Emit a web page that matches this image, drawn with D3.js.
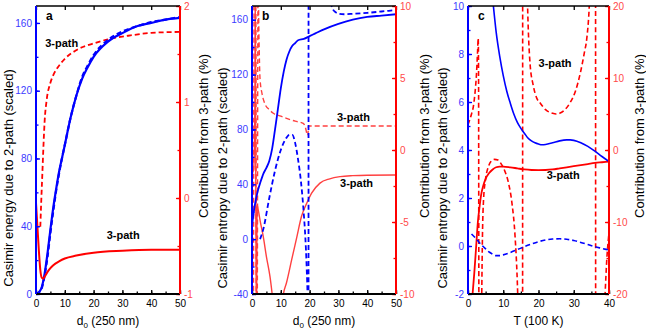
<!DOCTYPE html>
<html>
<head>
<meta charset="utf-8">
<script src="https://cdn.jsdelivr.net/npm/d3@7"></script>
<style>
body { margin: 0; background: #fff; }
text { font-family: "Liberation Sans", Arial, sans-serif; }
</style>
</head>
<body>
<div class="canvas"></div>
<script>
// ---- panel a : energy vs d0 ----
const aBlueSolid = [[0,0],[1,1],[2,4],[3,12],[4,24],[5,38],[6,51],[7,62],[8,72],[9,80],[10,88],[12,104],[14,117],[16,127],[18,134],[20,140],[25,149],[30,154],[35,158],[40,160],[45,162],[50,163]]
const aBlueDash = [[0,0],[1,1],[2,3.5],[3,11],[4,22],[5,36],[6,49],[7,61],[8,71],[9,80],[10,88],[12,104],[14,117],[16,128],[18,135],[20,141],[25,150],[30,155],[35,158],[40,160.5],[45,162],[50,163.5]]
const aRedSolid = [[0,-0.05],[0.5,-0.3],[1,-0.55],[1.5,-0.75],[2,-0.83],[2.5,-0.84],[3,-0.82],[4,-0.77],[5,-0.73],[6,-0.7],[8,-0.66],[10,-0.63],[14,-0.6],[20,-0.57],[30,-0.55],[40,-0.54],[50,-0.54]]
const aRedDash = [[1.5,-0.3],[1.8,-0.05],[2.2,0.25],[2.6,0.55],[3,0.8],[3.7,1.02],[5,1.2],[6,1.28],[7.8,1.37],[10,1.45],[14,1.54],[20,1.61],[26,1.66],[32,1.69],[40,1.72],[50,1.73]]

// ---- panel b : entropy vs d0 ----
const bBlueSolid = [[0,10],[0.5,18],[1,25],[2,35],[3,42],[4,48],[5,52],[6,57],[7,66],[8,80],[9,95],[10,110],[11,122],[12,131],[13,137],[14,141],[15,143],[16,145],[18,146],[20,148],[22,150],[25,153],[30,157],[35,160],[40,162],[45,163],[50,164]]
const bBlueDash = [[2.8,0],[4,8],[6,30],[8,50],[10,65],[12,74],[13,76],[14,76],[15,70],[16,58],[17,42],[18,18],[18.5,2],[19,-22],[19.3,-45],[19.6,-400],[19.65,400],[22,260],[25,200],[27,175],[28,168],[29,165.5],[30,164.5],[32,164],[35,164.3],[40,165],[45,166],[50,167]]
const bRedSolid = [[0.2,-1.6],[0.6,-1.3],[1,3],[1.15,12],[1.45,-12],[1.6,-12],[1.75,-3.8],[2.2,-4.2],[3,-5.1],[3.9,-6],[5,-7.4],[6.25,-8.8],[7,-10],[9,-14],[10.9,-10],[12,-9.2],[13.8,-7.6],[15.5,-6.1],[17.2,-4.6],[19,-3.7],[20.7,-3],[23.6,-2.3],[27,-2],[30.6,-1.85],[35,-1.78],[40,-1.75],[50,-1.74]]
const bRedDash = [[0.5,-12],[0.8,12],[1.3,12],[1.5,-12],[1.8,-12],[2.1,12],[2.4,8],[2.8,4.9],[3.5,3.9],[4.5,3.2],[6,2.8],[7.4,2.55],[10,2.35],[12,2.2],[15,2.0],[17.8,1.85],[18.5,1.6],[19.2,1.04],[19.4,1.0],[19.6,1.67],[22,1.67],[30,1.67],[40,1.67],[50,1.67]]

// ---- panel c : entropy vs T ----
const cBlueSolid = [[7.2,10],[8,8.9],[9,7.9],[10,7.1],[11,6.45],[12,5.95],[13,5.5],[14,5.15],[15,4.9],[16,4.7],[17,4.5],[18,4.38],[19,4.3],[20,4.25],[21,4.22],[22,4.23],[24,4.3],[26,4.38],[28,4.42],[29,4.42],[30,4.4],[32,4.3],[34,4.15],[36,3.95],[38,3.73],[40,3.52]]
const cBlueDash = [[1,0.5],[2,0.35],[3,0.18],[4,0.02],[5,-0.12],[6,-0.25],[7,-0.34],[8,-0.4],[9,-0.4],[10,-0.37],[12,-0.27],[14,-0.15],[16,-0.03],[18,0.08],[20,0.18],[22,0.25],[24,0.29],[26,0.3],[28,0.28],[30,0.23],[32,0.15],[34,0.06],[36,-0.03],[38,-0.1],[40,-0.17]]
const cRedSolid = [[1.3,-20],[1.8,-17],[2.3,-13.5],[2.8,-10],[3.2,-8.2],[3.7,-6.3],[4.3,-5],[5,-4],[6,-3.2],[7,-2.7],[8,-2.4],[9,-2.3],[10,-2.3],[12,-2.4],[14,-2.55],[16,-2.7],[18,-2.78],[20,-2.8],[22,-2.78],[24,-2.7],[26,-2.55],[28,-2.4],[30,-2.25],[32,-2.1],[34,-1.95],[36,-1.8],[38,-1.7],[40,-1.6]]
const cRedDash = [[0,3.5],[0.5,4.2],[1,5],[1.5,6],[2,8],[2.4,10.5],[2.7,13.5],[2.9,15.5],[3,10],[3.1,-25],[3.5,-40],[3.9,-20],[4.1,-12],[4.4,-7],[5,-4],[5.8,-2.3],[6.5,-1.6],[7.5,-1.3],[8.5,-1.4],[9.5,-2],[10.5,-3],[11.5,-4.6],[12.5,-7.5],[13.3,-11.6],[14.1,-20],[14.8,-35],[15.45,-80],[15.55,80],[16.3,35],[16.9,20],[17.6,12],[18.5,9],[19.5,7.2],[20.5,6.5],[22,5.6],[24,5.1],[25,5],[26,5.1],[27.5,5.6],[29,6.6],[30.5,8.2],[32,11],[33,13.5],[33.7,15.5],[34.4,20],[35.3,35],[36.15,80],[36.25,-80],[37.5,-40],[38.9,-20],[39.4,-15],[39.8,-12.5],[40,-11.5]]

// tick values
const aXTicks = [0,10,20,30,40,50], aLeftTicks = [0,40,80,120,160], aRightTicks = [-1,0,1,2]
const bXTicks = [0,10,20,30,40,50], bLeftTicks = [-40,0,40,80,120,160], bRightTicks = [-10,-5,0,5,10]
const cXTicks = [0,10,20,30,40], cLeftTicks = [-2,0,2,4,6,8,10], cRightTicks = [-20,-10,0,10,20]

const BLUE = "#0000ff", RED = "#ff0000", BLUE_TXT = "#3b3bff", RED_TXT = "#ff4a4a"
const plotTop = 6, plotH = 288

const svg = d3.select(".canvas")
            .append("svg")
            .attr("width", 646)
            .attr("height", 329)

// plain hyphen minus, no decimals
const fmt = d => String(d)

function drawPanel(p) {
    const g = svg.append("g").attr("transform", `translate(${p.left}, ${plotTop})`)
    const w = p.width

    const x = d3.scaleLinear().domain(p.xDomain).range([0, w])
    const yL = d3.scaleLinear().domain(p.yLDomain).range([plotH, 0])
    const yR = d3.scaleLinear().domain(p.yRDomain).range([plotH, 0])

    g.append("clipPath").attr("id", "clip-" + p.id)
        .append("rect").attr("width", w).attr("height", plotH)

    const lines = g.append("g").attr("clip-path", `url(#clip-${p.id})`)
    p.series.forEach(s => {
        const yS = s.axis == "left" ? yL : yR
        const gen = d3.line().x(d => x(d[0])).y(d => yS(d[1])).curve(d3.curveMonotoneX)
        lines.append("path")
            .attr("d", gen(s.data))
            .attr("fill", "none")
            .attr("stroke", s.color)
            .attr("stroke-width", s.width)
            .attr("stroke-dasharray", s.dash ? "5,3" : null)
    })

    // axes: ticks inward
    const minor = (scale, step) => d3.range(scale.domain()[0], scale.domain()[1] + step / 2, step)

    const xAxis = g.append("g").attr("transform", `translate(0, ${plotH})`)
        .call(d3.axisBottom(x).tickValues(p.xTicks).tickFormat(fmt).tickSize(-4).tickPadding(6))
    g.append("g").attr("transform", `translate(0, ${plotH})`)
        .call(d3.axisBottom(x).tickValues(minor(x, p.xMinor)).tickSize(-2.5).tickFormat(""))
    g.append("g").call(d3.axisTop(x).tickValues(p.xTicks).tickSize(-4).tickFormat(""))

    const lAxis = g.append("g")
        .call(d3.axisLeft(yL).tickValues(p.leftTicks).tickFormat(fmt).tickSize(-4).tickPadding(4))
    const lMinor = g.append("g").call(d3.axisLeft(yL).tickValues(minor(yL, p.leftMinor)).tickSize(-2.5).tickFormat(""))

    const rAxis = g.append("g").attr("transform", `translate(${w}, 0)`)
        .call(d3.axisRight(yR).tickValues(p.rightTicks).tickFormat(fmt).tickSize(-4).tickPadding(4))
    const rMinor = g.append("g").attr("transform", `translate(${w}, 0)`)
        .call(d3.axisRight(yR).tickValues(minor(yR, p.rightMinor)).tickSize(-2.5).tickFormat(""))

    g.selectAll(".domain").remove()
    g.selectAll(".tick line").attr("stroke-width", 1.3)
    xAxis.selectAll("text").attr("fill", "#000").style("font-size", "10px")
    lAxis.selectAll("text").attr("fill", BLUE_TXT).style("font-size", "10px")
    rAxis.selectAll("text").attr("fill", RED_TXT).style("font-size", "10px")
    lAxis.selectAll("line").attr("stroke", BLUE)
    lMinor.selectAll("line").attr("stroke", BLUE)
    rAxis.selectAll("line").attr("stroke", RED)
    rMinor.selectAll("line").attr("stroke", RED)

    // spines
    g.append("line").attr("x1", 0).attr("x2", w).attr("y1", 0).attr("y2", 0).attr("stroke", "#000").attr("stroke-width", 1.5)
    g.append("line").attr("x1", 0).attr("x2", w).attr("y1", plotH).attr("y2", plotH).attr("stroke", "#000").attr("stroke-width", 2)
    g.append("line").attr("x1", 0).attr("x2", 0).attr("y1", 0).attr("y2", plotH).attr("stroke", BLUE).attr("stroke-width", 2)
    g.append("line").attr("x1", w).attr("x2", w).attr("y1", 0).attr("y2", plotH).attr("stroke", RED).attr("stroke-width", 2)

    // panel letter
    g.append("text").attr("x", 10).attr("y", 14)
        .style("font-size", "12px").style("font-weight", "bold").text(p.id)

    // 3-path labels
    p.notes.forEach(n => {
        g.append("text").attr("x", x(n[0])).attr("y", yL(n[1])).attr("dy", "0.35em")
            .attr("text-anchor", "middle")
            .style("font-size", "11px").style("font-weight", "bold").text("3-path")
    })

    // axis titles
    const xt = g.append("text").attr("x", w / 2).attr("y", 319).attr("text-anchor", "middle")
        .style("font-size", "12px")
    if (p.xSub) {
        xt.append("tspan").text(p.xLabel)
        xt.append("tspan").attr("dy", 3).style("font-size", "8px").text(p.xSub)
        xt.append("tspan").attr("dy", -3).text(p.xRest)
    } else {
        xt.text(p.xLabel + p.xRest)
    }

    g.append("text").attr("transform", `translate(${p.lTitleX}, 172) rotate(-90)`)
        .attr("text-anchor", "middle").attr("dy", "0.35em").style("font-size", "13px").text(p.leftTitle)
    g.append("text").attr("transform", `translate(${w + p.rTitleX}, 130) rotate(-90)`)
        .attr("text-anchor", "middle").attr("dy", "0.35em").style("font-size", "13px").text("Contribution from 3-path (%)")
}

drawPanel({
    id: "a", left: 36, width: 144,
    xDomain: [0, 50], yLDomain: [0, 170], yRDomain: [-1, 2],
    xTicks: aXTicks, xMinor: 5, leftTicks: aLeftTicks, leftMinor: 20, rightTicks: aRightTicks, rightMinor: 0.5,
    series: [
        {data: aRedDash, axis: "right", color: RED, width: 1.8, dash: true},
        {data: aBlueSolid, axis: "left", color: BLUE, width: 2.2},
        {data: aBlueDash, axis: "left", color: BLUE, width: 2.2, dash: true},
        {data: aRedSolid, axis: "right", color: RED, width: 2}
    ],
    notes: [[8.9, 148], [30.3, 35]],
    xLabel: "d", xSub: "0", xRest: " (250 nm)",
    leftTitle: "Casimir energy due to 2-path (scaled)", lTitleX: -28, rTitleX: 23
})

drawPanel({
    id: "b", left: 252, width: 144,
    xDomain: [0, 50], yLDomain: [-40, 170], yRDomain: [-10, 10],
    xTicks: bXTicks, xMinor: 5, leftTicks: bLeftTicks, leftMinor: 20, rightTicks: bRightTicks, rightMinor: 2.5,
    series: [
        {data: bRedDash, axis: "right", color: "#ff4040", width: 1.4, dash: true},
        {data: bRedSolid, axis: "right", color: "#ff4040", width: 1.4},
        {data: bBlueSolid, axis: "left", color: BLUE, width: 1.8},
        {data: bBlueDash, axis: "left", color: BLUE, width: 1.8, dash: true}
    ],
    notes: [[35.2, 89], [36.3, 40.7]],
    xLabel: "d", xSub: "0", xRest: " (250 nm)",
    leftTitle: "Casimir entropy due to 2-path (scaled)", lTitleX: -30, rTitleX: 28
})

drawPanel({
    id: "c", left: 468, width: 141,
    xDomain: [0, 40], yLDomain: [-2, 10], yRDomain: [-20, 20],
    xTicks: cXTicks, xMinor: 5, leftTicks: cLeftTicks, leftMinor: 1, rightTicks: cRightTicks, rightMinor: 5,
    series: [
        {data: cRedDash, axis: "right", color: RED, width: 1.6, dash: true},
        {data: cRedSolid, axis: "right", color: RED, width: 1.8},
        {data: cBlueSolid, axis: "left", color: BLUE, width: 1.6},
        {data: cBlueDash, axis: "left", color: BLUE, width: 1.6, dash: true}
    ],
    notes: [[24.7, 7.6], [27, 2.96]],
    xLabel: "T (100 K)", xRest: "",
    leftTitle: "Casimir entropy due to 2-path (scaled)", lTitleX: -26, rTitleX: 30
})
</script>
</body>
</html>
